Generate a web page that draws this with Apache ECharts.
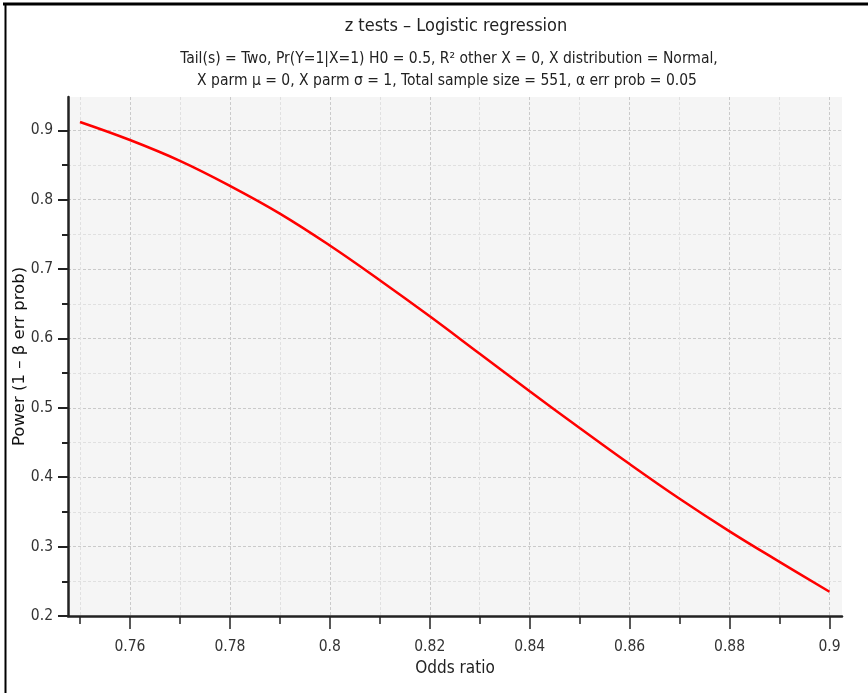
<!DOCTYPE html>
<html>
<head>
<meta charset="utf-8">
<script src="https://cdn.jsdelivr.net/npm/echarts@6/dist/echarts.min.js"></script>
<style>
html,body{margin:0;padding:0;background:#fff;}
#main{width:868px;height:693px;}
</style>
</head>
<body>
<div id="main"></div>
<script>
var titleText = 'z tests \u2013 Logistic regression';
var subLine1 = 'Tail(s) = Two, Pr(Y=1|X=1) H0 = 0.5, R\u00b2 other X = 0, X distribution = Normal,';
var subLine2 = 'X parm \u03bc = 0, X parm \u03c3 = 1, Total sample size = 551, \u03b1 err prob = 0.05';
var xName = 'Odds ratio';
var yName = 'Power (1 \u2013 \u03b2 err prob)';

var oddsRatio = [0.75, 0.76, 0.77, 0.78, 0.79, 0.80, 0.81, 0.82, 0.83, 0.84, 0.85, 0.86, 0.87, 0.88, 0.89, 0.90];
var power     = [0.912, 0.886, 0.856, 0.820, 0.780, 0.734, 0.684, 0.632, 0.578, 0.524, 0.471, 0.419, 0.369, 0.322, 0.278, 0.235];

var xMajorTicks = [0.76, 0.78, 0.80, 0.82, 0.84, 0.86, 0.88, 0.90];
var xMinorTicks = [0.75, 0.77, 0.79, 0.81, 0.83, 0.85, 0.87, 0.89];
var yMajorTicks = [0.2, 0.3, 0.4, 0.5, 0.6, 0.7, 0.8, 0.9];
var yMinorTicks = [0.25, 0.35, 0.45, 0.55, 0.65, 0.75, 0.85];

var X_MIN = 0.7476, X_MAX = 0.9025, Y_MIN = 0.2, Y_MAX = 0.948;

var NARROW = "'Liberation Sans Narrow', 'DejaVu Sans Condensed', sans-serif";

var chart = echarts.init(document.getElementById('main'));
var lblFmt = function (v) { return String(Math.round(v * 100) / 100); };

var option = {
  backgroundColor: '#ffffff',
  animation: false,
  title: [
    { text: titleText, left: 451, top: 12, textAlign: 'center',
      textStyle: { fontFamily: NARROW, fontSize: 18, fontWeight: 'normal', color: '#222' } },
    { text: subLine1, left: 444, top: 46, textAlign: 'center',
      textStyle: { fontFamily: NARROW, fontSize: 15.5, fontWeight: 'normal', color: '#222' } },
    { text: subLine2, left: 442, top: 68, textAlign: 'center',
      textStyle: { fontFamily: NARROW, fontSize: 15.5, fontWeight: 'normal', color: '#222' } }
  ],
  graphic: [
    { type: 'line', shape: { x1: 3, y1: 4, x2: 868, y2: 4 }, style: { stroke: '#000', lineWidth: 3 }, z: 100 },
    { type: 'line', shape: { x1: 5.5, y1: 3, x2: 5.5, y2: 693 }, style: { stroke: '#000', lineWidth: 2 }, z: 100 }
  ],
  grid: {
    left: 68, right: 26, top: 97, bottom: 77,
    outerBoundsMode: 'none',
    show: true, backgroundColor: '#f5f5f5', borderWidth: 0
  },
  xAxis: [
    {
      type: 'value', min: X_MIN, max: X_MAX, position: 'bottom',
      axisLine: { show: false },
      axisTick: { show: true, length: 8, customValues: xMinorTicks, lineStyle: { color: '#222', width: 1.5 } },
      axisLabel: { show: false },
      splitLine: { show: true, lineStyle: { color: '#e0e0e0', type: [3, 2], width: 1 } }
    },
    {
      type: 'value', min: X_MIN, max: X_MAX, position: 'bottom',
      name: xName, nameLocation: 'middle', nameGap: 44, nameMoveOverlap: false,
      nameTextStyle: { fontFamily: NARROW, fontSize: 17, color: '#222' },
      axisLine: { show: true, lineStyle: { color: '#222', width: 2.5 } },
      axisTick: { show: true, length: 13, customValues: xMajorTicks, lineStyle: { color: '#222', width: 1.5 } },
      axisLabel: { show: true, customValues: xMajorTicks, margin: 23, formatter: lblFmt,
        fontFamily: NARROW, fontSize: 15.5, color: '#333' },
      splitLine: { show: true, lineStyle: { color: '#cacaca', type: [3, 2], width: 1 } }
    }
  ],
  yAxis: [
    {
      type: 'value', min: Y_MIN, max: Y_MAX, position: 'left',
      axisLine: { show: false },
      axisTick: { show: true, length: 6, customValues: yMinorTicks, lineStyle: { color: '#222', width: 2 } },
      axisLabel: { show: false },
      splitLine: { show: true, lineStyle: { color: '#e0e0e0', type: [3, 2], width: 1 } }
    },
    {
      type: 'value', min: Y_MIN, max: Y_MAX, position: 'left',
      name: yName, nameLocation: 'middle', nameGap: 40, nameRotate: 90, nameMoveOverlap: false,
      nameTextStyle: { fontFamily: "'DejaVu Sans', sans-serif", fontSize: 16.5, color: '#111' },
      axisLine: { show: true, lineStyle: { color: '#222', width: 2.5 } },
      axisTick: { show: true, length: 10, customValues: yMajorTicks, lineStyle: { color: '#222', width: 2 } },
      axisLabel: { show: true, customValues: yMajorTicks, margin: 15, formatter: lblFmt,
        fontFamily: NARROW, fontSize: 15.5, color: '#333' },
      splitLine: { show: true, lineStyle: { color: '#cacaca', type: [3, 2], width: 1 } }
    }
  ],
  series: [
    {
      type: 'line', xAxisIndex: 1, yAxisIndex: 1,
      data: oddsRatio.map(function (x, i) { return [x, power[i]]; }),
      smooth: 0.4, showSymbol: false, symbol: 'none',
      lineStyle: { color: '#ff0000', width: 2.5 },
      z: 10
    }
  ]
};
chart.setOption(option);
</script>
</body>
</html>
